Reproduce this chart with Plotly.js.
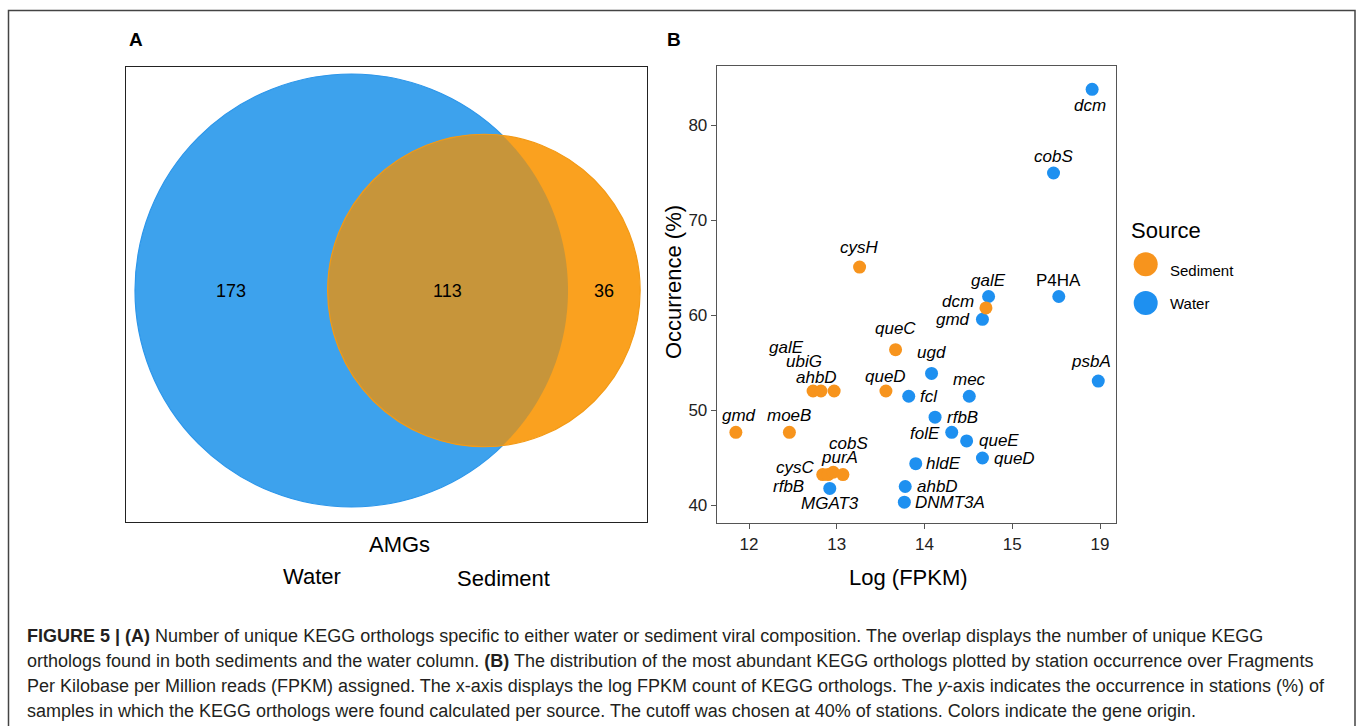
<!DOCTYPE html>
<html><head><meta charset="utf-8">
<script src="https://cdn.plot.ly/plotly-3.0.1.min.js"></script>
<style>body{margin:0;background:#fff}#chart{width:1360px;height:726px}</style>
</head><body><div id="chart"></div>
<script>
// ---------- Panel A data (Venn, AMGs) ----------
const vennSets = ['Water', 'Sediment'];
const vennTitle = 'AMGs';
const vennWaterOnly = 173;
const vennShared = 113;
const vennSedimentOnly = 36;

// ---------- Panel B data (axis positions; the last tick is labelled 19) ----------
const sedimentGenes = ['gmd','moeB','galE','ubiG','ahbD','queD','queC','cysH','dcm','cysC','rfbB','purA','cobS'];
const sedimentLogFPKM = [11.85,12.46,12.73,12.82,12.97,13.56,13.67,13.26,14.70,12.84,12.90,12.96,13.07];
const sedimentOccurrence = [47.7,47.7,52.05,52.05,52.05,52.05,56.4,65.1,60.8,43.25,43.25,43.5,43.25];

const waterGenes = ['dcm','cobS','galE','P4HA','gmd','ugd','psbA','fcl','mec','rfbB','folE','queE','queD','hldE','MGAT3','ahbD','DNMT3A'];
const waterLogFPKM = [15.91,15.47,14.73,15.53,14.66,14.08,15.98,13.82,14.51,14.12,14.31,14.48,14.66,13.90,12.92,13.78,13.77];
const waterOccurrence = [83.8,75.0,62.0,62.0,59.6,53.9,53.1,51.5,51.5,49.3,47.7,46.8,45.0,44.4,41.8,42.0,40.35];

const xTickVals = [12,13,14,15,16];
const xTickText = ['12','13','14','15','19'];
const yTickVals = [40,50,60,70,80];
const legendTitle = 'Source';
const legendNames = ['Sediment','Water'];

// ---------- styles / label offsets (pixels: dx right, dy down) ----------
const sedimentLabelShift = [[3,-17],[0,-17],[-27,-44],[-17,-30],[-18,-14],[0,-15],[0,-21],[0,-20],[-28,-6],[-27,-7],[-40,12],[6,-15],[6,-31]];
const waterLabelShift = [[-2,16],[0,-16],[0,-16],[0,-16],[-29,0],[0,-21],[-7,-20],[20,0],[0,-17],[27,0],[-27,1],[32,0],[32,0],[28,0],[0,15],[32,0],[46,0]];
const uprightLabels = ['P4HA'];

const W = 1360, H = 726;
const FX = x => x / W, FY = y => 1 - y / H;
const FONT = 'Liberation Sans, Arial, sans-serif';
const ORANGE = '#F7941D', BLUE = '#1E90F0';

// ---------- Venn geometry (area proportional) ----------
const r1 = Math.sqrt((vennWaterOnly + vennShared) / Math.PI);
const r2 = Math.sqrt((vennSedimentOnly + vennShared) / Math.PI);
function lens(d) {
  const a1 = Math.acos((d*d + r1*r1 - r2*r2) / (2*d*r1));
  const a2 = Math.acos((d*d + r2*r2 - r1*r1) / (2*d*r2));
  return r1*r1*a1 + r2*r2*a2 - 0.5*Math.sqrt((-d+r1+r2)*(d+r1-r2)*(d-r1+r2)*(d+r1+r2));
}
let lo = Math.abs(r1 - r2) + 1e-6, hi = r1 + r2 - 1e-6;
for (let i = 0; i < 80; i++) { const m = (lo + hi) / 2; if (lens(m) > vennShared) lo = m; else hi = m; }
const d = (lo + hi) / 2;
const xi = (d*d + r1*r1 - r2*r2) / (2*d), yi = Math.sqrt(r1*r1 - xi*xi);
const alpha = Math.atan2(yi, xi), phi0 = Math.atan2(yi, xi - d);
const pts = [];
for (let i = 0; i <= 90; i++) { const t = -alpha + 2*alpha*i/90; pts.push([r1*Math.cos(t), r1*Math.sin(t)]); }
for (let i = 0; i <= 90; i++) { const t = phi0 + (2*Math.PI - 2*phi0)*i/90; pts.push([d + r2*Math.cos(t), r2*Math.sin(t)]); }
const lensPath = 'M ' + pts.map(p => p[0].toFixed(4) + ',' + p[1].toFixed(4)).join(' L ') + ' Z';

// pixel mapping of panel A (box 126..647 x 67..522, blue centre at 351.5,290.5, radius 216.5 px)
const k = 216.5 / r1;
const cx = 351.5, cy = 290.5;
const ax2range = [(126 - cx) / k, (647 - cx) / k];
const ay2range = [(cy - 522) / k, (cy - 67) / k];

// ---------- traces ----------
const traces = [
  { x: waterLogFPKM, y: waterOccurrence, text: waterGenes, type: 'scatter', mode: 'markers', name: legendNames[1],
    marker: { color: BLUE, size: 13 }, xaxis: 'x', yaxis: 'y', hoverinfo: 'text', showlegend: false },
  { x: sedimentLogFPKM, y: sedimentOccurrence, text: sedimentGenes, type: 'scatter', mode: 'markers', name: legendNames[0],
    marker: { color: ORANGE, size: 13 }, xaxis: 'x', yaxis: 'y', hoverinfo: 'text', showlegend: false }
];

// ---------- annotations ----------
const ann = [];
function pa(text, x, y, size, opts) {
  ann.push(Object.assign({ text, x: FX(x), y: FY(y), xref: 'paper', yref: 'paper', showarrow: false,
    xanchor: 'center', yanchor: 'middle', font: { family: FONT, size, color: '#000' } }, opts || {}));
}
pa('<b>A</b>', 136, 39, 19);
pa('<b>B</b>', 674, 39, 19);
// venn numbers
const vennNums = [[vennWaterOnly, (-r1 + d - r2) / 2], [vennShared, (d - r2 + r1) / 2], [vennSedimentOnly, (r1 + d + r2) / 2]];
vennNums.forEach(v => ann.push({ text: String(v[0]), x: v[1], y: 0, xref: 'x2', yref: 'y2', showarrow: false,
  font: { family: FONT, size: 18, color: '#000' } }));
pa(vennTitle, 399, 544, 22);
pa(vennSets[0], 312, 576, 22);
pa(vennSets[1], 503, 578, 22);
// axis titles B
pa('Occurrence (%)', 673, 282, 22, { textangle: -90 });
pa('Log (FPKM)', 908, 577, 22);
// legend
pa(legendTitle, 1129, 230, 22, { xanchor: 'left' });
pa(legendNames[0], 1168, 270, 15, { xanchor: 'left' });
pa(legendNames[1], 1168, 303, 15, { xanchor: 'left' });
// gene labels
function geneLabels(genes, xs, ys, shifts) {
  genes.forEach((g, i) => ann.push({ text: g, x: xs[i], y: ys[i], xref: 'x', yref: 'y', showarrow: false,
    xshift: shifts[i][0], yshift: -shifts[i][1], xanchor: 'center', yanchor: 'middle',
    font: { family: FONT, size: 17, color: '#000', style: uprightLabels.includes(g) ? 'normal' : 'italic' } }));
}
geneLabels(waterGenes, waterLogFPKM, waterOccurrence, waterLabelShift);
geneLabels(sedimentGenes, sedimentLogFPKM, sedimentOccurrence, sedimentLabelShift);
// caption
const caption = [
  '<b>FIGURE 5 | (A)</b> Number of unique KEGG orthologs specific to either water or sediment viral composition. The overlap displays the number of unique KEGG',
  'orthologs found in both sediments and the water column. <b>(B)</b> The distribution of the most abundant KEGG orthologs plotted by station occurrence over Fragments',
  'Per Kilobase per Million reads (FPKM) assigned. The x-axis displays the log FPKM count of KEGG orthologs. The <i>y</i>-axis indicates the occurrence in stations (%) of',
  'samples in which the KEGG orthologs were found calculated per source. The cutoff was chosen at 40% of stations. Colors indicate the gene origin.'
];
caption.forEach((t, i) => pa(t, 25, 636 + 25*i, 18, { xanchor: 'left', align: 'left', font: { family: FONT, size: 18, color: '#231F20' } }));

// ---------- shapes ----------
const shapes = [
  { type: 'rect', xref: 'paper', yref: 'paper', x0: FX(8.5), x1: FX(1355), y0: FY(760), y1: FY(10.5), line: { color: '#444', width: 1.5 } },
  { type: 'circle', xref: 'x2', yref: 'y2', x0: -r1, x1: r1, y0: -r1, y1: r1, fillcolor: '#3DA2ED', line: { color: '#2C96EA', width: 1.2 }, layer: 'below' },
  { type: 'circle', xref: 'x2', yref: 'y2', x0: d - r2, x1: d + r2, y0: -r2, y1: r2, fillcolor: '#FAA11F', line: { width: 0 }, layer: 'below' },
  { type: 'path', xref: 'x2', yref: 'y2', path: lensPath, fillcolor: '#C7953A', line: { width: 0 }, layer: 'below' },
  { type: 'circle', xref: 'x2', yref: 'y2', x0: d - r2, x1: d + r2, y0: -r2, y1: r2, fillcolor: 'rgba(0,0,0,0)', line: { color: '#F39A16', width: 1.2 }, layer: 'below' },
  { type: 'circle', xref: 'paper', yref: 'paper', x0: FX(1145.7 - 12), x1: FX(1145.7 + 12), y0: FY(264.3 + 12), y1: FY(264.3 - 12), fillcolor: ORANGE, line: { width: 0 } },
  { type: 'circle', xref: 'paper', yref: 'paper', x0: FX(1145.7 - 12), x1: FX(1145.7 + 12), y0: FY(303 + 12), y1: FY(303 - 12), fillcolor: BLUE, line: { width: 0 } }
];

const tickFont = { family: FONT, size: 17, color: '#222' };
const layout = {
  width: W, height: H, margin: { l: 0, r: 0, t: 0, b: 0 }, paper_bgcolor: '#fff', plot_bgcolor: 'rgba(0,0,0,0)',
  showlegend: false,
  xaxis: { domain: [FX(717), FX(1116)], range: [11.635, 16.182], anchor: 'y', tickvals: xTickVals, ticktext: xTickText,
    ticks: 'outside', ticklen: 5, tickcolor: '#555', tickwidth: 1, tickfont: tickFont, showgrid: false, zeroline: false,
    showline: true, mirror: true, linecolor: '#555', linewidth: 1.3 },
  yaxis: { domain: [FY(523), FY(66)], range: [38.158, 86.26], anchor: 'x', tickvals: yTickVals,
    ticks: 'outside', ticklen: 5, tickcolor: '#555', tickwidth: 1, tickfont: tickFont, showgrid: false, zeroline: false,
    showline: true, mirror: true, linecolor: '#555', linewidth: 1.3 },
  xaxis2: { domain: [FX(126), FX(647)], range: ax2range, anchor: 'y2', showticklabels: false, ticks: '', showgrid: false,
    zeroline: false, showline: true, mirror: true, linecolor: '#222', linewidth: 1.3 },
  yaxis2: { domain: [FY(522), FY(67)], range: ay2range, anchor: 'x2', showticklabels: false, ticks: '', showgrid: false,
    zeroline: false, showline: true, mirror: true, linecolor: '#222', linewidth: 1.3 },
  shapes, annotations: ann
};
Plotly.newPlot('chart', traces, layout, { displayModeBar: false, staticPlot: true });
</script></body></html>
